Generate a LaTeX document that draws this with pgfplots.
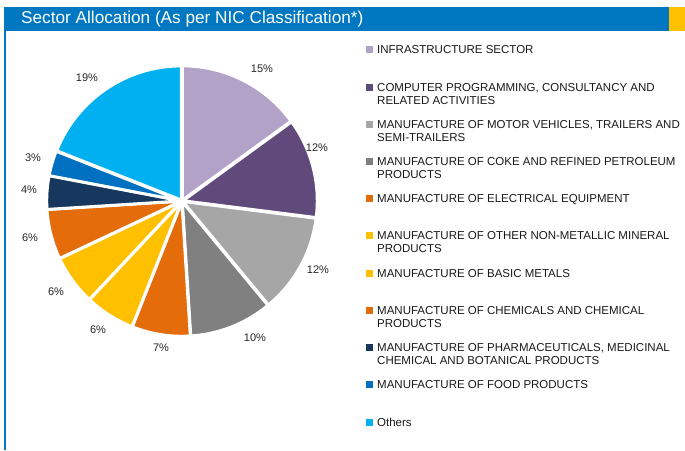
\documentclass[border=0pt]{standalone}
\usepackage{pgfplots}
\usepackage{pgfplotstable}
\pgfplotsset{compat=1.18}
\usepackage{fontspec}
\setmainfont{Liberation Sans}

\definecolor{hdrblue}{HTML}{0078C1}
\definecolor{hdryellow}{HTML}{FFC000}
\definecolor{cInfra}{HTML}{B3A2C7}
\definecolor{cComp}{HTML}{604A7B}
\definecolor{cMotor}{HTML}{A6A6A6}
\definecolor{cCoke}{HTML}{808080}
\definecolor{cElec}{HTML}{E46C0A}
\definecolor{cNonMet}{HTML}{FFC000}
\definecolor{cBasic}{HTML}{FFC000}
\definecolor{cChem}{HTML}{E46C0A}
\definecolor{cPharma}{HTML}{17375E}
\definecolor{cFood}{HTML}{0070C0}
\definecolor{cOthers}{HTML}{00B0F0}

% sector shares in %, clockwise from 12 o'clock; labx/laby = where the % label sits
\pgfplotstableread[col sep=semicolon]{
value;color;labx;laby;lineA;lineB
15;cInfra;262;381;INFRASTRUCTURE SECTOR;
12;cComp;317;302;COMPUTER PROGRAMMING, CONSULTANCY AND;RELATED ACTIVITIES
12;cMotor;318;180;MANUFACTURE OF MOTOR VEHICLES, TRAILERS AND;SEMI-TRAILERS
10;cCoke;255;112;MANUFACTURE OF COKE AND REFINED PETROLEUM;PRODUCTS
7;cElec;161;102;MANUFACTURE OF ELECTRICAL EQUIPMENT;
6;cNonMet;98;120;MANUFACTURE OF OTHER NON-METALLIC MINERAL;PRODUCTS
6;cBasic;56;158;MANUFACTURE OF BASIC METALS;
6;cChem;30;212;MANUFACTURE OF CHEMICALS AND CHEMICAL;PRODUCTS
4;cPharma;29;260;MANUFACTURE OF PHARMACEUTICALS, MEDICINAL;CHEMICAL AND BOTANICAL PRODUCTS
3;cFood;33;292;MANUFACTURE OF FOOD PRODUCTS;
19;cOthers;87;372;Others;
}\piedata

\begin{document}
\begin{tikzpicture}
\begin{axis}[
    width=685pt, height=450pt,
    scale only axis,
    xmin=0, xmax=685, ymin=0, ymax=450,
    hide axis,
    clip=false,
]
\pgfplotsextra{
    \fill[white] (axis cs:0,0) rectangle (axis cs:685,450);
    % header
    \fill[hdrblue] (axis cs:4,419) rectangle (axis cs:669,443);
    \fill[hdryellow] (axis cs:669,419) rectangle (axis cs:685,443);
    \fill[hdrblue] (axis cs:4,0) rectangle (axis cs:6,419);
    \node[anchor=base west, text=white, inner sep=0pt,
          font=\fontsize{17.2}{19}\selectfont]
        at (axis cs:21,426) {Sector Allocation (As per NIC Classification*)};
    % pie
    \gdef\angstart{90}
    \pgfplotstablegetrowsof{\piedata}
    \pgfmathtruncatemacro\lastrow{\pgfplotsretval-1}
    \foreach \i in {0,...,\lastrow}{
        \pgfplotstablegetelem{\i}{value}\of\piedata
        \let\sval\pgfplotsretval
        \pgfplotstablegetelem{\i}{color}\of\piedata
        \let\scol\pgfplotsretval
        \pgfplotstablegetelem{\i}{labx}\of\piedata
        \let\lx\pgfplotsretval
        \pgfplotstablegetelem{\i}{laby}\of\piedata
        \let\lyy\pgfplotsretval
        \pgfplotstablegetelem{\i}{lineA}\of\piedata
        \let\la\pgfplotsretval
        \pgfplotstablegetelem{\i}{lineB}\of\piedata
        \let\lb\pgfplotsretval
        \pgfmathsetmacro\angend{\angstart-3.6*\sval}
        \pgfmathsetmacro\angmid{(\angstart+\angend)/2}
        \fill[fill=\scol, draw=white, line width=2.8pt, line join=round]
            (axis cs:182,249) ++(\angmid:1.2pt) -- ++(\angstart:134pt)
            arc[start angle=\angstart, end angle=\angend, radius=134pt] -- cycle;
        \node[font=\fontsize{11}{13}\selectfont, text=black!85, inner sep=0pt]
            at (axis cs:\lx,\lyy) {\sval\%};
        % legend entry
        \pgfmathsetmacro\ly{450-(50+37.2*\i)}
        \fill[\scol] (axis cs:366,\ly-3.5) rectangle (axis cs:373,\ly+3.5);
        \node[anchor=base west, inner sep=0pt, text=black!90,
              font=\fontsize{11.5}{13}\selectfont] at (axis cs:377,\ly-4) {\la};
        \node[anchor=base west, inner sep=0pt, text=black!90,
              font=\fontsize{11.5}{13}\selectfont] at (axis cs:377,\ly-17) {\lb};
        \xdef\angstart{\angend}
    }
}
\end{axis}
\end{tikzpicture}
\end{document}
